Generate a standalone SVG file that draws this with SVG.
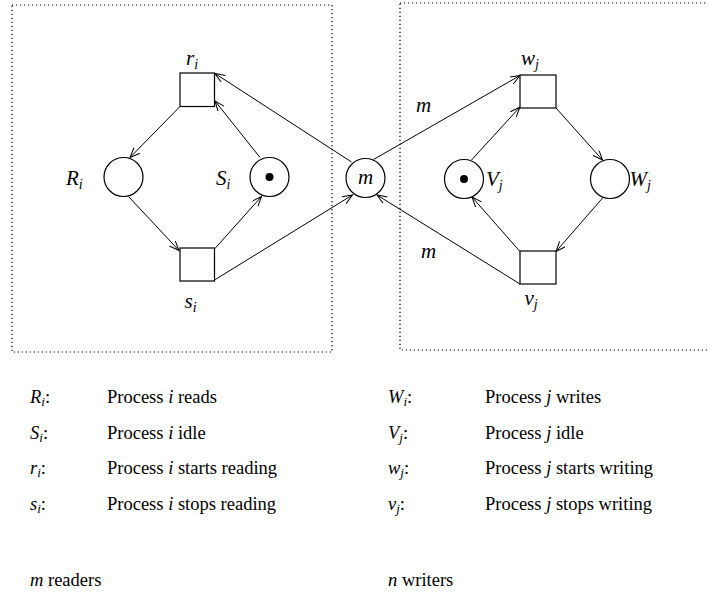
<svg xmlns="http://www.w3.org/2000/svg" width="708" height="595" viewBox="0 0 708 595" font-family="'Liberation Serif', 'Times New Roman', serif">
<style>
.bg{fill:#fff}
.box{fill:none;stroke:#000;stroke-width:1.2;stroke-dasharray:1.2 2.8}
.node{fill:#fff;stroke:#000;stroke-width:1.2}
.tok{fill:#000}
.edge{fill:none;stroke:#000;stroke-width:1;marker-end:url(#arr)}
text{font-family:'Liberation Serif','Times New Roman',serif;fill:#000}
.lab{font-size:21px;font-style:italic}
.s{font-size:14px}
.leg{font-size:18.5px}
.it{font-style:italic}
.ls{font-size:13px;font-style:italic}
</style>
<defs>
<marker id="arr" markerUnits="userSpaceOnUse" markerWidth="12" markerHeight="10" refX="10" refY="4" orient="auto">
<path d="M0,0 L10,4 L0,8" fill="none" stroke="#000" stroke-width="1"/>
</marker>
</defs>
<rect class="bg" width="708" height="595"/>
<rect class="box" x="12" y="5" width="320" height="347"/>
<rect class="box" x="400" y="3" width="330" height="347"/>

<g id="connectors">
<line class="edge" x1="180" y1="106.5" x2="130" y2="157.5"/>
<line class="edge" x1="128.5" y1="196.5" x2="179" y2="250.5"/>
<line class="edge" x1="214.5" y1="249" x2="261.5" y2="196.5"/>
<line class="edge" x1="260" y1="157.5" x2="215" y2="101"/>
<line class="edge" x1="351.5" y1="162" x2="215" y2="73.5"/>
<line class="edge" x1="214.5" y1="280" x2="352.5" y2="195"/>
<line class="edge" x1="373.5" y1="159.5" x2="520" y2="75.5"/>
<line class="edge" x1="471.5" y1="160" x2="520" y2="107"/>
<line class="edge" x1="556" y1="108" x2="602.5" y2="160"/>
<line class="edge" x1="603" y1="197.5" x2="556" y2="251.5"/>
<line class="edge" x1="520" y1="251.5" x2="472" y2="197"/>
<line class="edge" x1="520" y1="284" x2="377" y2="195"/>
</g>

<g id="r_i"><rect class="node" x="180" y="73" width="34.5" height="33.5"/><text class="lab" x="186" y="65">r<tspan class="s" dy="4">i</tspan></text></g>
<g id="s_i"><rect class="node" x="180" y="248" width="34.5" height="33"/><text class="lab" x="184.5" y="308">s<tspan class="s" dy="4">i</tspan></text></g>
<g id="R_i"><circle class="node" cx="123.5" cy="177" r="19.5"/><text class="lab" x="66" y="185">R<tspan class="s" dy="4">i</tspan></text></g>
<g id="S_i"><circle class="node" cx="269.5" cy="177" r="19.5"/><circle class="tok" cx="269.5" cy="177" r="4"/><text class="lab" x="216" y="185">S<tspan class="s" dy="4">i</tspan></text></g>
<g id="m"><circle class="node" cx="365.5" cy="178" r="19.5"/><text class="lab" x="365.5" y="184" text-anchor="middle">m</text></g>
<g id="w_j"><rect class="node" x="520" y="75" width="36" height="33"/><text class="lab" x="521" y="65">w<tspan class="s" dy="4">j</tspan></text></g>
<g id="v_j"><rect class="node" x="520" y="251" width="36" height="33"/><text class="lab" x="524.5" y="305">v<tspan class="s" dy="4">j</tspan></text></g>
<g id="V_j"><circle class="node" cx="464" cy="179" r="19.5"/><circle class="tok" cx="464" cy="179" r="4"/><text class="lab" x="486" y="186">V<tspan class="s" dy="4">j</tspan></text></g>
<g id="W_j"><circle class="node" cx="610" cy="179" r="19.5"/><text class="lab" x="629.5" y="186">W<tspan class="s" dy="4">j</tspan></text></g>
<g id="edge-labels"><text class="lab" x="416" y="112">m</text><text class="lab" x="421" y="258">m</text></g>

<g id="legend">
<text class="leg" x="30" y="403"><tspan class="it">R</tspan><tspan class="ls" dy="3">i</tspan><tspan dy="-3">:</tspan></text>
<text class="leg" x="107" y="403">Process <tspan class="it">i</tspan> reads</text>
<text class="leg" x="30" y="439"><tspan class="it">S</tspan><tspan class="ls" dy="3">i</tspan><tspan dy="-3">:</tspan></text>
<text class="leg" x="107" y="439">Process <tspan class="it">i</tspan> idle</text>
<text class="leg" x="30" y="474"><tspan class="it">r</tspan><tspan class="ls" dy="3">i</tspan><tspan dy="-3">:</tspan></text>
<text class="leg" x="107" y="474">Process <tspan class="it">i</tspan> starts reading</text>
<text class="leg" x="30" y="510"><tspan class="it">s</tspan><tspan class="ls" dy="3">i</tspan><tspan dy="-3">:</tspan></text>
<text class="leg" x="107" y="510">Process <tspan class="it">i</tspan> stops reading</text>
<text class="leg" x="388" y="403"><tspan class="it">W</tspan><tspan class="ls" dy="3">i</tspan><tspan dy="-3">:</tspan></text>
<text class="leg" x="485" y="403">Process <tspan class="it">j</tspan> writes</text>
<text class="leg" x="388" y="439"><tspan class="it">V</tspan><tspan class="ls" dy="3">j</tspan><tspan dy="-3">:</tspan></text>
<text class="leg" x="485" y="439">Process <tspan class="it">j</tspan> idle</text>
<text class="leg" x="388" y="474"><tspan class="it">w</tspan><tspan class="ls" dy="3">j</tspan><tspan dy="-3">:</tspan></text>
<text class="leg" x="485" y="474">Process <tspan class="it">j</tspan> starts writing</text>
<text class="leg" x="388" y="510"><tspan class="it">v</tspan><tspan class="ls" dy="3">j</tspan><tspan dy="-3">:</tspan></text>
<text class="leg" x="485" y="510">Process <tspan class="it">j</tspan> stops writing</text>
<text class="leg" x="30" y="586"><tspan class="it">m</tspan> readers</text>
<text class="leg" x="388" y="586"><tspan class="it">n</tspan> writers</text>
</g>
</svg>
